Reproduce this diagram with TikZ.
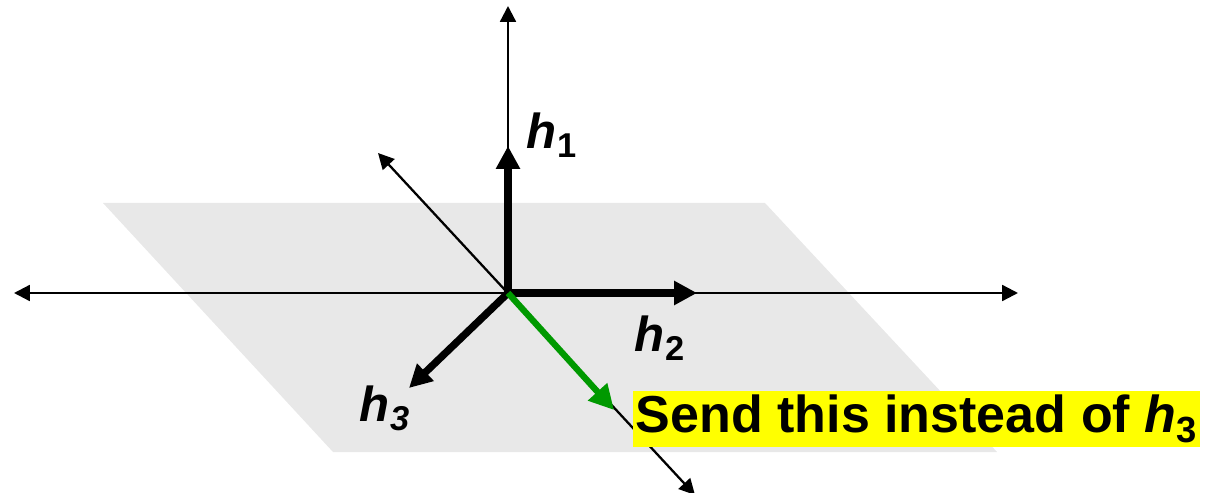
\documentclass[tikz,border=0pt]{standalone}
\usepackage{fontspec}
\setmainfont{Liberation Sans}
\usetikzlibrary{arrows.meta,positioning}
\definecolor{planeGray}{HTML}{E8E8E8}
\definecolor{sendGreen}{HTML}{009900}
\definecolor{markYellow}{HTML}{FFFF00}

\begin{document}
\begin{tikzpicture}[
  x=0.02cm, y=-0.02cm,
  axis/.style={line width=1.3pt, -{Triangle[length=9pt, width=9pt]}},
  vec/.style={line width=4.2pt, -{Triangle[length=13pt, width=13pt]}},
  lbl/.style={font=\fontsize{28}{30}\selectfont\bfseries\itshape, inner sep=0pt}
]
\useasboundingbox (0,0) rectangle (1210,493);

% plane
\fill[planeGray] (103,203) -- (765,203) -- (997,452) -- (333,452) -- cycle;

% axes
\coordinate (o) at (508,293);
\coordinate (top) at (508,6);
\coordinate (left) at (14,293);
\coordinate (right) at (1018,293);
\coordinate (ul) at (378,153);
\coordinate (lr) at (695,495);
\draw[axis] (o) -- (top);
\draw[axis, {Triangle[length=9pt, width=9pt]}-{Triangle[length=9pt, width=9pt]}] (left) -- (right);
\draw[axis, {Triangle[length=9pt, width=9pt]}-{Triangle[length=9pt, width=9pt]}] (ul) -- (lr);

% basis vectors
\coordinate (t1) at (508,146);
\coordinate (t2) at (697,293);
\coordinate (t3) at (409,388);
\coordinate (tg) at (614,410);
\draw[vec] (o) -- (t1);
\draw[vec] (o) -- (t2);
\draw[vec] (o) -- (t3);
\draw[vec, sendGreen, line width=3.6pt, -{Triangle[length=14pt, width=14pt]}] (o) -- (tg);

% labels
\node[lbl] (h1) at (552,135) {h\textsubscript{\upshape 1}};
\node[lbl] (h2) at (660,338) {h\textsubscript{\upshape 2}};
\node[lbl] (h3) at (385,408) {h\textsubscript{3}};
\node[fill=markYellow, anchor=west, inner xsep=1.5pt, inner ysep=2pt, font=\fontsize{29.6}{32}\selectfont\bfseries]
  (send) at (633,419) {Send this instead of \textit{h}\textsubscript{3}};
\end{tikzpicture}
\end{document}
